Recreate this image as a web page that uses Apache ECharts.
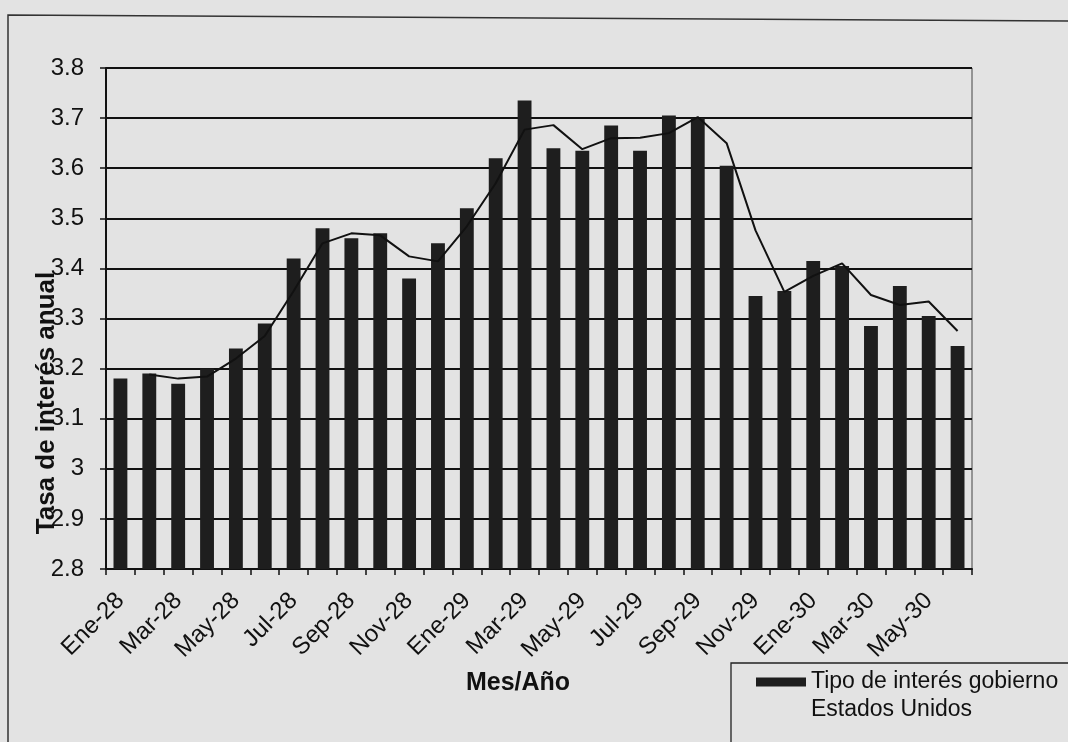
<!DOCTYPE html>
<html>
<head>
<meta charset="utf-8">
<script src="https://cdn.jsdelivr.net/npm/echarts@6/dist/echarts.min.js"></script>
<style>
html,body{margin:0;padding:0;background:#e3e3e3;}
#chart{width:1068px;height:742px;}
</style>
</head>
<body>
<div id="chart"></div>
<script>
// Months (Ene-28 .. Jun-30)
const categories = ['Ene-28','Feb-28','Mar-28','Abr-28','May-28','Jun-28','Jul-28','Ago-28','Sep-28','Oct-28','Nov-28','Dic-28',
  'Ene-29','Feb-29','Mar-29','Abr-29','May-29','Jun-29','Jul-29','Ago-29','Sep-29','Oct-29','Nov-29','Dic-29',
  'Ene-30','Feb-30','Mar-30','Abr-30','May-30','Jun-30'];
// Bars: government interest rate (USA)
const rateValues = [3.18,3.19,3.17,3.20,3.24,3.29,3.42,3.48,3.46,3.47,3.38,3.45,
  3.52,3.62,3.735,3.64,3.635,3.685,3.635,3.705,3.70,3.605,3.345,3.355,
  3.415,3.405,3.285,3.365,3.305,3.245];
// Thin trend line (no value in the first month)
const trendValues = [null,3.188,3.18,3.184,3.22,3.265,3.355,3.45,3.47,3.466,3.424,3.414,
  3.484,3.57,3.677,3.686,3.638,3.66,3.661,3.67,3.702,3.65,3.476,3.353,
  3.385,3.41,3.347,3.327,3.334,3.275];
const seriesName = 'Tipo de interés gobierno\nEstados Unidos';
const yTitle = 'Tasa de interés anual';
const xTitle = 'Mes/Año';
const yMin = 2.8, yMax = 3.8, yStep = 0.1;

const chart = echarts.init(document.getElementById('chart'));
const font = 'Liberation Sans, Arial, sans-serif';
chart.setOption({
  backgroundColor: '#e3e3e3',
  animation: false,
  grid: {left: 106, right: 96, top: 68, bottom: 173, show: true, borderColor: '#444', borderWidth: 1},
  xAxis: {
    type: 'category',
    data: categories,
    boundaryGap: true,
    axisLine: {lineStyle: {color: '#111', width: 2}},
    axisTick: {show: true, interval: 0, length: 6, lineStyle: {color: '#111', width: 1.5}},
    axisLabel: {interval: 1, rotate: 45, margin: 28, color: '#111', fontFamily: font, fontSize: 24}
  },
  yAxis: {
    type: 'value',
    min: yMin, max: yMax, interval: yStep,
    axisLine: {show: true, lineStyle: {color: '#111', width: 2}},
    axisTick: {show: true, length: 6, lineStyle: {color: '#111', width: 1.5}},
    axisLabel: {margin: 22, color: '#111', fontFamily: font, fontSize: 24,
      formatter: v => String(+v.toFixed(1))},
    splitLine: {show: true, lineStyle: {color: '#111', width: 2}}
  },
  legend: {
    data: [{name: seriesName, icon: 'rect'}],
    left: 756, top: 640,
    padding: 0,
    itemWidth: 50, itemHeight: 9,
    selectedMode: false,
    formatter: name => ' \n' + name,
    textStyle: {fontFamily: font, fontSize: 23, color: '#111', lineHeight: 28}
  },
  graphic: [
    {type: 'polyline', shape: {points: [[8, 760], [8, 15], [1080, 21]]}, style: {stroke: '#333', lineWidth: 1.5, fill: null}},
    {type: 'rect', shape: {x: 731, y: 663, width: 400, height: 200}, style: {stroke: '#222', lineWidth: 1.3, fill: null}},
    {type: 'text', x: 47, y: 403, rotation: Math.PI / 2,
      style: {text: yTitle, font: 'bold 26px Liberation Sans, Arial, sans-serif', fill: '#111', align: 'center', verticalAlign: 'middle'}},
    {type: 'text', x: 518, y: 683,
      style: {text: xTitle, font: 'bold 25px Liberation Sans, Arial, sans-serif', fill: '#111', align: 'center', verticalAlign: 'middle'}}
  ],
  series: [
    {name: seriesName, type: 'bar', data: rateValues, barWidth: '48%', itemStyle: {color: '#1e1e1e'}, z: 2},
    {name: 'trend', type: 'line', data: trendValues, showSymbol: false, symbol: 'none',
      lineStyle: {color: '#111', width: 2}, z: 3}
  ]
});
</script>
</body>
</html>
